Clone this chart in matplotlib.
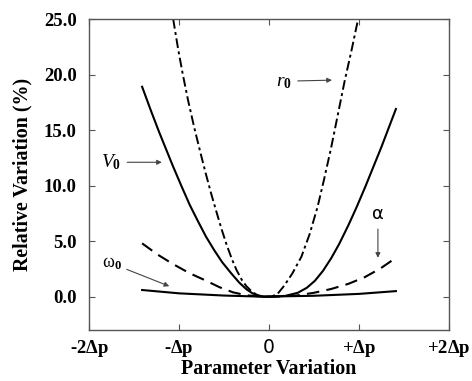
import numpy as np
import matplotlib.pyplot as plt

# values (x in units of delta p, y in %)
v0_x = [-1.41, -1.31, -1.22, -1.07, -0.97, -0.88, -0.79, -0.70, -0.61, -0.52, -0.42, -0.33, -0.25, -0.18, -0.07,
        0.05, 0.18, 0.32, 0.42, 0.51, 0.60, 0.69, 0.78, 0.88, 0.97, 1.07, 1.16, 1.25, 1.33, 1.41]
v0_y = [18.9, 16.7, 14.8, 11.8, 9.9, 8.25, 6.8, 5.4, 4.2, 3.1, 2.1, 1.26, 0.66, 0.28, 0.0,
        0.0, 0.07, 0.35, 0.8, 1.43, 2.33, 3.45, 4.75, 6.4, 8.0, 9.9, 11.7, 13.5, 15.2, 16.9]

r0_x = [-1.065, -1.01, -0.96, -0.90, -0.83, -0.76, -0.70, -0.64, -0.59, -0.53, -0.47, -0.41, -0.36, -0.30,
        -0.25, -0.18, -0.10, -0.05, 0.02, 0.09, 0.17, 0.26, 0.36, 0.45, 0.54, 0.61, 0.69, 0.76, 0.84, 0.92, 0.99]
r0_y = [25.0, 22.3, 20.1, 17.7, 15.2, 12.9, 11.0, 9.2, 7.8, 6.15, 4.65, 3.33, 2.38, 1.48,
        0.93, 0.37, 0.05, 0.0, 0.0, 0.2, 1.0, 2.1, 3.6, 5.6, 8.1, 10.5, 13.4, 16.2, 19.4, 22.3, 25.0]

alpha_x = [-1.41, -1.24, -1.07, -0.88, -0.70, -0.55, -0.40, -0.25, -0.07, 0.10, 0.30, 0.50, 0.69, 0.88, 1.06, 1.24, 1.41]
alpha_y = [4.8, 3.8, 2.95, 2.1, 1.44, 0.85, 0.39, 0.12, 0.0, 0.02, 0.1, 0.35, 0.69, 1.15, 1.74, 2.55, 3.5]

w0_x = [-1.41, -1.0, -0.5, -0.07, 0.5, 1.0, 1.41]
w0_y = [0.6, 0.3, 0.1, 0.0, 0.08, 0.25, 0.5]

xticks = [-2, -1, 0, 1, 2]
xticklabels = [r"-2$\Delta$p", r"-$\Delta$p", "0", r"+$\Delta$p", r"+2$\Delta$p"]
yticks = [0, 5, 10, 15, 20, 25]

plt.rcParams["mathtext.fontset"] = "custom"
plt.rcParams["mathtext.rm"] = "Liberation Serif:bold"
plt.rcParams["mathtext.it"] = "Liberation Serif:italic"

fig = plt.figure(figsize=(4.72, 3.81), dpi=100)
ax = fig.add_axes([0.1886, 0.1339, 0.7627, 0.8162])

ax.plot(v0_x, v0_y, color="black", lw=1.5)
ax.plot(w0_x, w0_y, color="black", lw=1.5)
ax.plot(alpha_x, alpha_y, color="black", lw=1.5, linestyle=(0, (6, 3.5)))
ax.plot(r0_x, r0_y, color="black", lw=1.4, linestyle=(0, (5, 1.8, 1.5, 1.8)))

ax.set_xlim(-2, 2)
ax.set_ylim(-3, 25)
ax.set_xticks(xticks)
ax.set_xticklabels(xticklabels)
ax.set_yticks(yticks)
ax.set_yticklabels([f"{v:.1f}" for v in yticks])
ax.tick_params(direction="in", top=True, right=True, length=4, width=0.8, color="#555555",
               labelsize=13.5)
ax.tick_params(axis="y", pad=9)
ax.tick_params(axis="x", pad=6)
for lbl in ax.get_xticklabels() + ax.get_yticklabels():
    lbl.set_family("Liberation Serif")
    lbl.set_weight("bold")
ax.get_xticklabels()[2].set_family("DejaVu Sans")
ax.get_xticklabels()[2].set_weight("normal")
for s in ax.spines.values():
    s.set_color("#555555")
    s.set_linewidth(1.0)

ax.set_xlabel("Parameter Variation", fontsize=14.4, family="Liberation Serif", weight="bold", labelpad=0)
ax.set_ylabel("Relative Variation (%)", fontsize=14.4, family="Liberation Serif", weight="bold", labelpad=8)

arrow = dict(arrowstyle="-|>", color="#444444", lw=0.8, mutation_scale=7)
ax.annotate(r"$V_{\mathit{0}}$", xy=(-1.16, 12.1), xytext=(-1.75, 12.1), fontsize=14,
            va="center", ha="center", arrowprops=arrow)
ax.annotate(r"$r_{\mathit{0}}$", xy=(0.73, 19.5), xytext=(0.17, 19.4), fontsize=14,
            va="center", ha="center", arrowprops=arrow)
ax.annotate("α", xy=(1.21, 3.25), xytext=(1.21, 7.4), fontsize=13,
            va="center", ha="center", family="DejaVu Sans", arrowprops=arrow)
ax.annotate(r"ω$_\mathrm{0}$", xy=(-1.08, 0.85), xytext=(-1.75, 3.0), fontsize=13,
            va="center", ha="center", family="Liberation Serif", arrowprops=arrow)

fig.savefig("out.png", dpi=100)
